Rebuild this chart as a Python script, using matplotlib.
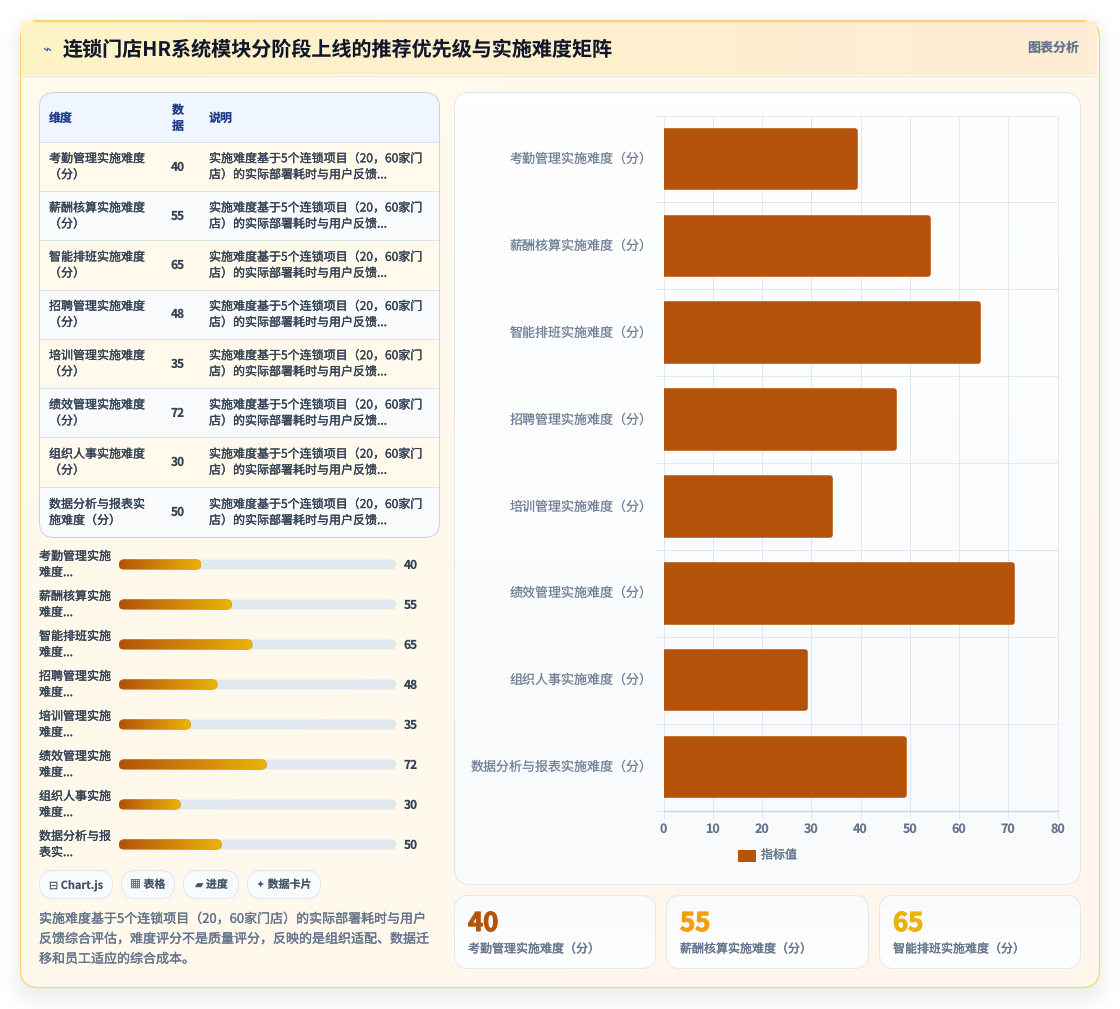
import matplotlib
matplotlib.use('Agg')
import matplotlib.pyplot as plt
import matplotlib.patheffects as pe
import numpy as np
from matplotlib.colors import LinearSegmentedColormap, to_rgb
from matplotlib.patches import FancyBboxPatch, Rectangle
from matplotlib.transforms import ScaledTranslation

plt.rcParams['font.family'] = ['Noto Sans CJK SC', 'DejaVu Sans']
plt.rcParams['text.hinting'] = 'none'

W, H = 1120, 1009

title = '连锁门店HR系统模块分阶段上线的推荐优先级与实施难度矩阵'
labels = ['考勤管理实施难度（分）', '薪酬核算实施难度（分）', '智能排班实施难度（分）', '招聘管理实施难度（分）',
          '培训管理实施难度（分）', '绩效管理实施难度（分）', '组织人事实施难度（分）', '数据分析与报表实施难度（分）']
values = [40, 55, 65, 48, 35, 72, 30, 50]
table_names = ['考勤管理实施难度\n（分）', '薪酬核算实施难度\n（分）', '智能排班实施难度\n（分）', '招聘管理实施难度\n（分）',
               '培训管理实施难度\n（分）', '绩效管理实施难度\n（分）', '组织人事实施难度\n（分）', '数据分析与报表实\n施难度（分）']
note = '实施难度基于5个连锁项目（20，60家门\n店）的实际部署耗时与用户反馈...'
short_names = ['考勤管理实施\n难度...', '薪酬核算实施\n难度...', '智能排班实施\n难度...', '招聘管理实施\n难度...',
               '培训管理实施\n难度...', '绩效管理实施\n难度...', '组织人事实施\n难度...', '数据分析与报\n表实...']
chips = ['⊟ Chart.js', '▦ 表格', '▰ 进度', '✦ 数据卡片']
footnote = ['实施难度基于5个连锁项目（20，60家门店）的实际部署耗时与用户',
            '反馈综合评估，难度评分不是质量评分，反映的是组织适配、数据迁',
            '移和员工适应的综合成本。']
xticks = [0, 10, 20, 30, 40, 50, 60, 70, 80]

BAR = '#b45309'
NAVY = '#1e3a8a'
SLATE = '#334155'
GREY = '#64748b'
LINE = '#e2e8f0'
PX = 0.72  # one pixel in points

fig = plt.figure(figsize=(W / 100, H / 100), dpi=100, facecolor='white')
bg = fig.add_axes([0, 0, 1, 1])
bg.set_xlim(0, W)
bg.set_ylim(H, 0)
bg.axis('off')


def rbox(x0, y0, x1, y1, r, fc='none', ec='none', lw=PX, z=2, alpha=None):
    p = FancyBboxPatch((x0 + r, y0 + r), x1 - x0 - 2 * r, y1 - y0 - 2 * r,
                       boxstyle='round,pad={},rounding_size={}'.format(r, r),
                       fc=fc, ec=ec, lw=lw, zorder=z, alpha=alpha)
    bg.add_patch(p)
    return p


def grad(x0, y0, x1, y1, c0, c1, clip=None, z=2, dx=1.0, dy=0.0):
    # linear gradient, dx and dy set the direction
    u, v = np.meshgrid(np.linspace(0, 1, 64), np.linspace(0, 1, 64))
    t = (dx * u + dy * v) / (dx + dy)
    cm = LinearSegmentedColormap.from_list('g', [c0, c1])
    im = bg.imshow(t, extent=(x0, x1, y1, y0), cmap=cm, vmin=0, vmax=1,
                   aspect='auto', zorder=z, interpolation='bilinear')
    if clip is not None:
        im.set_clip_path(clip)
    return im


def txt(x, y, s, size, color, stroke=0.0, **kw):
    # thin stroke thickens the regular weight a little
    t = bg.text(x, y, s, fontsize=size, color=color, va='center', zorder=6, **kw)
    if stroke > 0:
        t.set_path_effects([pe.withStroke(linewidth=stroke, foreground=color)])
    return t


# soft card shadow, falls off with distance from a lowered rounded rect
xx, yy = np.meshgrid(np.arange(W) + 0.5, np.arange(H) + 0.5)
qx = np.abs(xx - 559.5) - (539.5 - 18)
qy = np.abs(yy - 512) - (485 - 18)
dist = np.hypot(np.maximum(qx, 0), np.maximum(qy, 0)) + np.minimum(np.maximum(qx, qy), 0) - 18
shade = np.zeros((H, W, 4))
shade[..., :3] = to_rgb('#0f172a')
shade[..., 3] = 0.11 * np.clip(1 - (dist + 16) / 46, 0, 1) ** 2
bg.imshow(shade, extent=(0, W, H, 0), aspect='auto', zorder=1)
bg.plot([0, W], [1008.5, 1008.5], color='#eef0f5', lw=PX, zorder=1)

# card body
card = rbox(21, 21, 1099, 987, 17, fc='#fff7ed', z=2)
grad(21, 21, 1099, 987, '#fffbeb', '#fff7ed', clip=card, z=2, dy=1.0)
rbox(20.5, 20.5, 1099.5, 987.5, 17.5, ec='#f8d470', lw=0.9, z=3)

# header strip
grad(21, 21, 1097, 75, '#fef3c7', '#ffedd5', z=4)
bg.plot([21, 1099], [75.5, 75.5], color='#e8e8e4', lw=PX, zorder=5)
bg.plot([35, 1084], [20.7, 20.7], color='#f8d470', lw=0.9, zorder=5)
bg.text(47, 50, '⌁', fontsize=11, color='#2f5fb5', ha='center', va='center', zorder=6, family='DejaVu Sans')
txt(63, 50.5, title, 14.45, '#0f172a', fontweight='bold', ha='left')
txt(1079, 48, '图表分析', 9.36, GREY, fontweight='bold', ha='right')

# table
tx0, tx1, ty0, ty1 = 39.5, 439.5, 92.5, 537.5
tb = rbox(tx0, ty0, tx1, ty1, 15, fc='white', z=3)
head = Rectangle((tx0, ty0), tx1 - tx0, 49, fc='#eff6ff', zorder=3, lw=0)
bg.add_patch(head)
head.set_clip_path(tb)
txt(49, 118, '维度', 8.64, NAVY, fontweight='bold')
txt(178, 118, '数\n据', 8.64, NAVY, fontweight='bold', ha='center', linespacing=1.36)
txt(209, 118, '说明', 8.64, NAVY, fontweight='bold')
row_tops = [141.5, 191, 240, 289.5, 338.5, 388, 437, 486.5, 537.5]
for i in range(8):
    fc = '#fffaeb' if i % 2 == 0 else '#f8fafc'
    r = Rectangle((tx0, row_tops[i]), tx1 - tx0, row_tops[i + 1] - row_tops[i], fc=fc, zorder=3, lw=0)
    bg.add_patch(r)
    r.set_clip_path(tb)
    bg.plot([tx0, tx1], [row_tops[i], row_tops[i]], color='#dde3ea', lw=PX, zorder=4)
    cy = (row_tops[i] + row_tops[i + 1]) / 2 + 0.5
    txt(49, cy, table_names[i], 8.64, SLATE, stroke=0.2, linespacing=1.36)
    txt(178, cy, str(values[i]), 8.64, SLATE, fontweight='bold', ha='center')
    txt(209, cy, note, 8.64, SLATE, stroke=0.2, linespacing=1.36)
rbox(tx0, ty0, tx1, ty1, 15, ec='#cbd5e1', z=5)

# progress bars
bar_ys = [564.5, 604.5, 644.5, 684.5, 724.5, 764.5, 804.5, 844.5]
px0, px1 = 119, 396
bar_max = 135
for i, y in enumerate(bar_ys):
    xe = px0 + (px1 - px0) * values[i] / bar_max
    txt(39, y, short_names[i], 8.64, SLATE, stroke=0.2, linespacing=1.36)
    rbox(px0, y - 5, px1, y + 5, 5, fc=LINE, z=3)
    fill = rbox(px0, y - 5, xe, y + 5, 5, fc=BAR, z=4)
    grad(px0, y - 5, xe, y + 5, BAR, '#eab308', clip=fill, z=4)
    txt(404, y + 0.5, str(values[i]), 8.64, SLATE, fontweight='bold')

# chips
chip_x = [(39.5, 112.5), (121.5, 174.5), (183.5, 238.5), (247.5, 320.5)]
for (a, b), s in zip(chip_x, chips):
    rbox(a, 870.5, b, 898.5, 14, fc='#f8fafc', ec=LINE, z=3)
    txt((a + b) / 2, 885, s, 7.9, '#475569', fontweight='bold', ha='center')

# footnote
for i, s in enumerate(footnote):
    txt(39, 919 + i * 20, s, 9.36, GREY, stroke=0.2)

# chart panel
panel = rbox(454.5, 92.5, 1080.5, 884.5, 16, fc='white', z=3)
grad(454.5, 92.5, 1080.5, 884.5, '#ffffff', '#f8fafc', clip=panel, z=3, dx=0.0, dy=1.0)
rbox(454.5, 92.5, 1080.5, 884.5, 16, ec=LINE, z=5)

# stat cards
cards = [(454.5, 655.5, BAR), (666.5, 868.5, '#f59e0b'), (879.5, 1080.5, '#eab308')]
for k, (a, b, col) in enumerate(cards):
    c = rbox(a, 895.5, b, 968.5, 14, fc='white', z=3)
    grad(a, 895.5, b, 968.5, '#f8fafc', '#ffffff', clip=c, z=3, dx=0.0, dy=1.0)
    rbox(a, 895.5, b, 968.5, 14, ec=LINE, z=5)
    txt(a + 13.5, 923.5, str(values[k]), 18.5, col, stroke=0.8, fontweight='bold')
    txt(a + 13.5, 949, labels[k], 8.64, GREY, stroke=0.2)
bg.set_xlim(0, W)
bg.set_ylim(H, 0)

# horizontal bar chart
ax = fig.add_axes([663.5 / W, 1 - 810.5 / H, 394 / W, 695 / H], facecolor='none', zorder=7)
y = np.arange(len(labels))
bars = ax.barh(y, values, height=0.65, color=BAR, edgecolor=BAR, linewidth=4, zorder=3)
# round stroke gives the corners, the shift takes up the stroke width
shift = ax.transData + ScaledTranslation(-6 / 100, 0, fig.dpi_scale_trans)
for b in bars:
    b.set_joinstyle('round')
    b.set_transform(shift)
ax.set_xlim(0, 80)
ax.set_ylim(len(labels) - 0.5, -0.5)
ax.set_xticks(xticks)
ax.set_yticks(y)
ax.set_yticklabels(labels)
ax.set_yticks(np.arange(-0.5, len(labels)), minor=True)
ax.grid(True, axis='x', color=LINE, lw=PX, zorder=0)
ax.grid(True, axis='y', which='minor', color=LINE, lw=PX, zorder=0)
ax.grid(False, axis='y', which='major')
ax.tick_params(axis='y', which='major', length=0, pad=8, labelsize=9.36, labelcolor='#718096')
ax.tick_params(axis='y', which='minor', length=6, width=PX, color=LINE)
ax.tick_params(axis='x', length=6, width=PX, color=LINE, pad=3, labelsize=9, labelcolor=GREY)
for t in ax.get_xticklabels():
    t.set_fontweight('bold')
for t in ax.get_yticklabels():
    t.set_transform(t.get_transform() + ScaledTranslation(0, 1.5 / 100, fig.dpi_scale_trans))
for s in ['top', 'right', 'left']:
    ax.spines[s].set_color(LINE)
    ax.spines[s].set_linewidth(PX)
ax.spines['bottom'].set_color('#cbd5e1')
ax.spines['bottom'].set_linewidth(1.0)

# legend key
bg.add_patch(Rectangle((737.5, 850), 18, 12, fc=BAR, ec='none', zorder=6))
txt(761, 855, '指标值', 8.64, GREY, stroke=0.2)

fig.savefig('out.png', dpi=100, facecolor='white')
